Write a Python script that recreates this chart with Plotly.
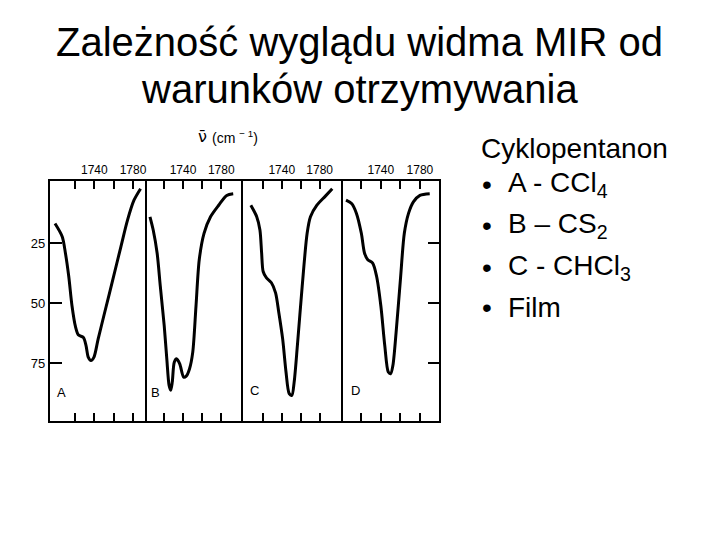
import plotly.graph_objects as go

# IR spectra of cyclopentanone, C=O region
a_wn = [1699.3, 1706.8, 1710.1, 1713.5, 1716.9, 1720.3, 1723.6, 1728.7, 1731.4, 1733.8,
        1736.5, 1739.5, 1743.9, 1750.6, 1759.1, 1767.5, 1774.3, 1781.0, 1787.8]
a_val = [16.7, 22.2, 29.1, 38.7, 51.1, 59.4, 63.2, 64.2, 67.6, 72.5,
         73.8, 72.5, 64.9, 53.9, 40.1, 26.3, 15.3, 7.0, 2.2]

b_wn = [1705.5, 1708.9, 1713.0, 1716.3, 1720.4, 1723.1, 1725.5, 1727.2, 1728.8, 1730.9,
        1733.3, 1736.6, 1740.7, 1743.4, 1746.8, 1750.2, 1753.6, 1757.0, 1762.0, 1768.8,
        1777.3, 1785.7, 1792.5]
b_val = [13.9, 19.4, 29.1, 42.8, 59.4, 73.1, 84.2, 86.2, 82.8, 74.5,
         73.1, 75.2, 80.7, 80.3, 77.3, 70.4, 51.1, 31.8, 20.8, 13.9,
         9.1, 5.0, 4.3]

c_wn = [1707.4, 1713.6, 1717.0, 1718.8, 1720.4, 1723.9, 1729.1, 1733.5, 1736.9, 1741.0,
        1744.5, 1747.9, 1750.7, 1753.1, 1756.5, 1761.6, 1766.8, 1770.3, 1777.1, 1785.8,
        1793.3]
c_val = [9.1, 13.9, 19.4, 29.1, 36.7, 39.4, 41.4, 45.6, 53.8, 64.9,
         78.6, 87.6, 88.3, 82.8, 67.6, 42.8, 20.8, 13.9, 9.1, 5.4,
         2.2]

d_wn = [1704.3, 1710.0, 1715.0, 1720.0, 1723.3, 1726.6, 1731.6, 1735.6, 1740.0, 1744.0,
        1747.6, 1750.0, 1752.3, 1755.6, 1760.0, 1764.0, 1768.3, 1773.3, 1780.0, 1790.0]
d_val = [7.0, 8.4, 12.5, 20.8, 29.1, 31.8, 33.2, 38.7, 51.1, 67.6,
         78.6, 79.3, 75.9, 62.1, 40.1, 20.8, 12.5, 7.7, 5.0, 4.3]

panel_letters = ["A", "B", "C", "D"]
x_ranges = [[1694, 1792], [1702, 1801], [1699.5, 1802.6], [1701.3, 1799.3]]
x_tickvals = [1720, 1740, 1760, 1780]
x_ticktext = ["", "1740", "", "1780"]
y_tickvals = [25, 50, 75]

title_lines = ["Zależność wyglądu widma MIR od", "warunków otrzymywania"]
legend_head = "Cyklopentanon"
legend_items = ["A - CCl<sub>4</sub>", "B – CS<sub>2</sub>", "C - CHCl<sub>3</sub>", "Film"]

W, H = 720, 540
OFF = 8  # page body margin, the plot div sits 8px in from the corner
FONT = "Liberation Sans, Arial, sans-serif"
BLACK = "black"


def px(x):
    return (x - OFF) / W


def py(y):
    return 1 - (y - OFF) / H


# panel border lines (screen pixels)
x_edges = [49, 146, 243, 343, 441]
y_top, y_bot = 180, 422
LW = 2

series = [(a_wn, a_val), (b_wn, b_val), (c_wn, c_val), (d_wn, d_val)]

fig = go.Figure()
for i, (wn, val) in enumerate(series):
    n = "" if i == 0 else str(i + 1)
    fig.add_trace(go.Scatter(
        x=wn, y=val, xaxis="x" + n, yaxis="y" + n, mode="lines",
        line=dict(color=BLACK, width=3, shape="spline", smoothing=0.8),
        showlegend=False, hoverinfo="skip",
    ))

layout = dict(
    width=W, height=H, margin=dict(l=0, r=0, t=0, b=0),
    paper_bgcolor="white", plot_bgcolor="white",
    font=dict(family=FONT, color=BLACK),
)
for i in range(4):
    n = "" if i == 0 else str(i + 1)
    # axis lines are drawn just outside the domain, so inset by half a line
    layout["xaxis" + n] = dict(
        domain=[px(x_edges[i] + LW / 2), px(x_edges[i + 1] - LW / 2)],
        anchor="y" + n, range=x_ranges[i], side="top",
        showline=True, linecolor=BLACK, linewidth=LW, mirror="ticks",
        ticks="inside", ticklen=8, tickwidth=2, tickcolor=BLACK,
        tickvals=x_tickvals, ticktext=x_ticktext,
        tickfont=dict(size=12, family=FONT, color=BLACK),
        showgrid=False, zeroline=False, fixedrange=True,
    )
    ya = dict(
        domain=[py(y_bot - LW / 2), py(y_top + LW / 2)],
        anchor="x" + n, range=[99, -1],
        showline=True, linecolor=BLACK, linewidth=LW, mirror=True,
        showgrid=False, zeroline=False, fixedrange=True,
        tickvals=y_tickvals, ticks="", showticklabels=False,
    )
    if i == 0:
        ya.update(ticks="inside", ticklen=12, tickwidth=2, tickcolor=BLACK,
                  showticklabels=True, tickfont=dict(size=13, family=FONT, color=BLACK))
    if i == 3:
        ya.update(side="right", ticks="inside", ticklen=11, tickwidth=2, tickcolor=BLACK)
    layout["yaxis" + n] = ya
fig.update_layout(**layout)


def note(text, x, y, size, xanchor="center", family=FONT):
    fig.add_annotation(
        text=text, xref="paper", yref="paper", x=px(x), y=py(y),
        xanchor=xanchor, yanchor="middle", showarrow=False,
        font=dict(size=size, family=family, color=BLACK),
    )


# panel letters
letter_pos = [(62, 393), (156, 393), (255, 390), (356, 390)]
for lab, (lx, ly) in zip(panel_letters, letter_pos):
    note(lab, lx, ly, 13)

# wavenumber label
note("ν̄", 203, 136, 16, family="DejaVu Sans")
note("(cm <sup>− 1</sup>)", 211, 137, 14, xanchor="left")

# title
for txt, yc in zip(title_lines, [42, 89]):
    note(txt, 360, yc, 40)

# bullet list
note(legend_head, 480, 148, 28, xanchor="left")
for yc, item in zip([185, 226, 267, 307], legend_items):
    note("•", 481, yc, 28, xanchor="left")
    note(item, 507, yc, 28, xanchor="left")

fig.write_html("out.html")
